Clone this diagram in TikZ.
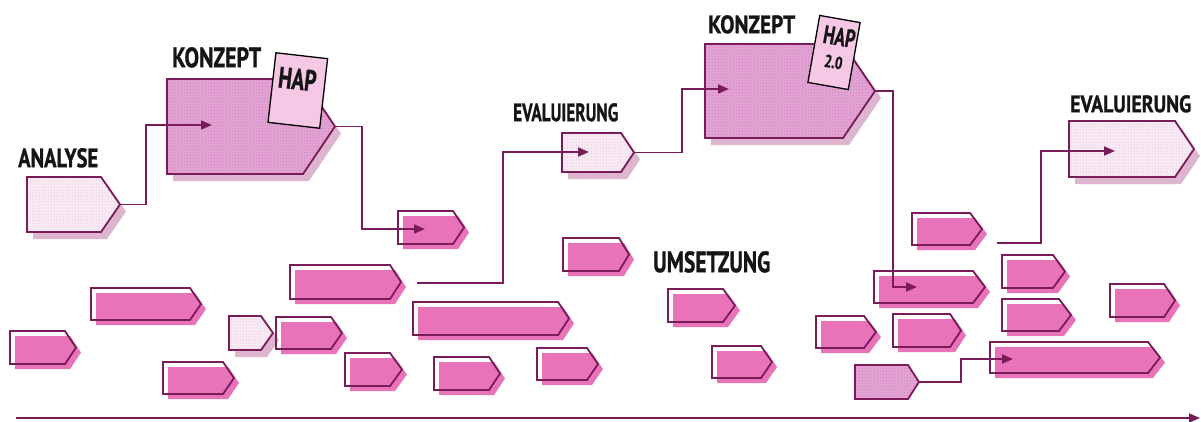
\documentclass[tikz,border=0pt]{standalone}
\usepackage{fontspec}
\setmainfont{PT Sans}
\usetikzlibrary{arrows.meta,patterns}
\definecolor{pur}{HTML}{7A1B5A}
\definecolor{pk}{HTML}{E873B9}
\definecolor{shd}{HTML}{DDB5CF}
\definecolor{hatchc}{HTML}{E4A6D4}
\definecolor{hatchd}{HTML}{CC78B8}
\definecolor{dotc}{HTML}{F8EBF4}
\definecolor{dotd}{HTML}{DDAACB}
\definecolor{cardc}{HTML}{F6C8E5}
\definecolor{ink}{HTML}{151515}
\tikzset{
  boxline/.style={draw=pur,line width=1.8pt,line join=miter},
  conn/.style={draw=pur,line width=1.8pt},
  arr/.style={conn,-{Triangle[length=11pt,width=9pt]}},
  cardst/.style={draw=black,line width=1.3pt,fill=cardc,inner sep=0pt},
  lbl/.style={anchor=north west,inner sep=0pt,text=ink},
  dotfill/.style={preaction={fill=dotc},pattern=dots,pattern color=dotd},
  hatchfill/.style={preaction={fill=hatchc},pattern=crosshatch dots,pattern color=hatchd},
  shadowon/.style={fill=shd},
  shadowoff/.style={},
}
\newcommand{\lblf}{\bfseries\addfontfeatures{FakeBold=1.2}}
% solid box: name, x1, y1, xflat, xtip, y2
\newcommand{\solidbox}[6]{%
  \fill[pk,shift={(5,5)}] (#2,#3) -- (#4,#3) -- (#5,{(#3+#6)/2}) -- (#4,#6) -- (#2,#6) -- cycle;
  \draw[boxline] (#2,#3) -- (#4,#3) -- (#5,{(#3+#6)/2}) -- (#4,#6) -- (#2,#6) -- cycle;
  \coordinate (#1) at (#5,{(#3+#6)/2});}
% textured box: name, x1, y1, xflat, xtip, y2, fill style, shadow style
\newcommand{\texbox}[8]{%
  \path[#8,shift={(6,7)}] (#2,#3) -- (#4,#3) -- (#5,{(#3+#6)/2}) -- (#4,#6) -- (#2,#6) -- cycle;
  \path[#7] (#2,#3) -- (#4,#3) -- (#5,{(#3+#6)/2}) -- (#4,#6) -- (#2,#6) -- cycle;
  \draw[boxline] (#2,#3) -- (#4,#3) -- (#5,{(#3+#6)/2}) -- (#4,#6) -- (#2,#6) -- cycle;
  \coordinate (#1) at (#5,{(#3+#6)/2});}
\newcommand{\lbltext}[6]{\node[lbl] (#1) at (#2,#3) {\resizebox{#4pt}{#5pt}{\lblf #6}};}
\begin{document}
\begin{tikzpicture}[x=1pt,y=-1pt]
\useasboundingbox (0,0) rectangle (1201,421);
% labels
\lbltext{lanalyse}{18}{148}{80}{19}{ANALYSE}
\lbltext{lkonzept1}{172}{47}{89}{20}{KONZEPT}
\lbltext{leval1}{513}{103}{105}{18}{EVALUIERUNG}
\lbltext{lkonzept2}{708}{15}{87}{18}{KONZEPT}
\lbltext{leval2}{1070}{95}{121}{17}{EVALUIERUNG}
\lbltext{lumsetzung}{653}{251}{117}{21}{UMSETZUNG}
% textured boxes
\texbox{analyse}{27}{177}{101}{120}{232}{dotfill}{shadowon}
\texbox{konzept1}{167}{79}{303}{335}{174}{hatchfill}{shadowon}
\texbox{eval1}{562}{133}{621}{634}{172}{dotfill}{shadowon}
\texbox{konzept2}{705}{44}{843}{875}{138}{hatchfill}{shadowon}
\texbox{eval2}{1069}{121}{1175}{1194}{177}{dotfill}{shadowon}
\texbox{small}{229}{316}{261}{273}{350}{dotfill}{shadowon}
% solid boxes
\solidbox{a1}{10}{331}{65}{76}{364}
\solidbox{a2}{91}{288}{190}{201}{320}
\solidbox{a3}{163}{362}{223}{234}{394}
\solidbox{b1}{290}{265}{390}{401}{299}
\solidbox{b2}{276}{317}{331}{342}{349}
\solidbox{b3}{345}{353}{390}{402}{386}
\solidbox{b4}{413}{302}{558}{569}{335}
\solidbox{b5}{434}{357}{489}{500}{390}
\solidbox{b6}{537}{348}{587}{598}{380}
\solidbox{c1}{398}{211}{453}{464}{244}
\solidbox{g1}{563}{238}{619}{629}{271}
\solidbox{e1}{668}{289}{723}{735}{322}
\solidbox{e2}{712}{346}{761}{772}{378}
\solidbox{d1}{912}{213}{970}{982}{245}
\solidbox{d2}{874}{271}{973}{985}{303}
\solidbox{d3}{1002}{255}{1053}{1065}{288}
\solidbox{d4}{1002}{299}{1059}{1071}{331}
\solidbox{d5}{1110}{284}{1164}{1175}{317}
\solidbox{d6}{893}{314}{950}{961}{347}
\solidbox{d7}{816}{316}{864}{876}{348}
\solidbox{d8}{990}{342}{1148}{1160}{373}
\texbox{d9}{855}{365}{908}{919}{399}{hatchfill}{shadowoff}
% cards
\node[cardst,rotate=-6.5,minimum width=52pt,minimum height=70pt] (hap1) at (297.8,90.5) {};
\node[inner sep=0pt,rotate=-6.5,text=ink] (haptext1) at (297.5,79) {\resizebox{38pt}{21pt}{\lblf HAP}};
\node[cardst,rotate=-10,minimum width=41pt,minimum height=68pt] (hap2) at (834,52.5) {};
\node[inner sep=0pt,rotate=-10,text=ink] (haptext2) at (839.5,36.5) {\resizebox{32pt}{18pt}{\lblf HAP}};
\node[inner sep=0pt,rotate=-10,text=ink] (haptext3) at (833.5,62) {\resizebox{18pt}{12.5pt}{\lblf 2.0}};
% connector coordinates
\coordinate (k1in) at (212,125);
\coordinate (bend1) at (146,125);
\coordinate (c1in) at (425,229);
\coordinate (bend2) at (362,229);
\coordinate (start3) at (417,283);
\coordinate (bend3) at (503,152);
\coordinate (e1in) at (589,152);
\coordinate (bend4) at (682,89);
\coordinate (k2in) at (729,89);
\coordinate (bend5) at (893,287);
\coordinate (d2in) at (917,287);
\coordinate (start6) at (997,243);
\coordinate (bend6) at (1041,151);
\coordinate (e2in) at (1115,151);
\coordinate (bend7) at (961,359);
\coordinate (d8in) at (1013,359);
\coordinate (tl0) at (16,418);
\coordinate (tl1) at (1200,418);
% connectors
\draw[arr] (analyse) -| (bend1) -- (k1in);
\draw[arr] (konzept1) -| (bend2) -- (c1in);
\draw[arr] (start3) -| (bend3) -- (e1in);
\draw[arr] (eval1) -| (bend4) -- (k2in);
\draw[arr] (konzept2) -| (bend5) -- (d2in);
\draw[arr] (start6) -| (bend6) -- (e2in);
\draw[arr] (d9) -| (bend7) -- (d8in);
\draw[arr] (tl0) -- (tl1);
\end{tikzpicture}
\end{document}
